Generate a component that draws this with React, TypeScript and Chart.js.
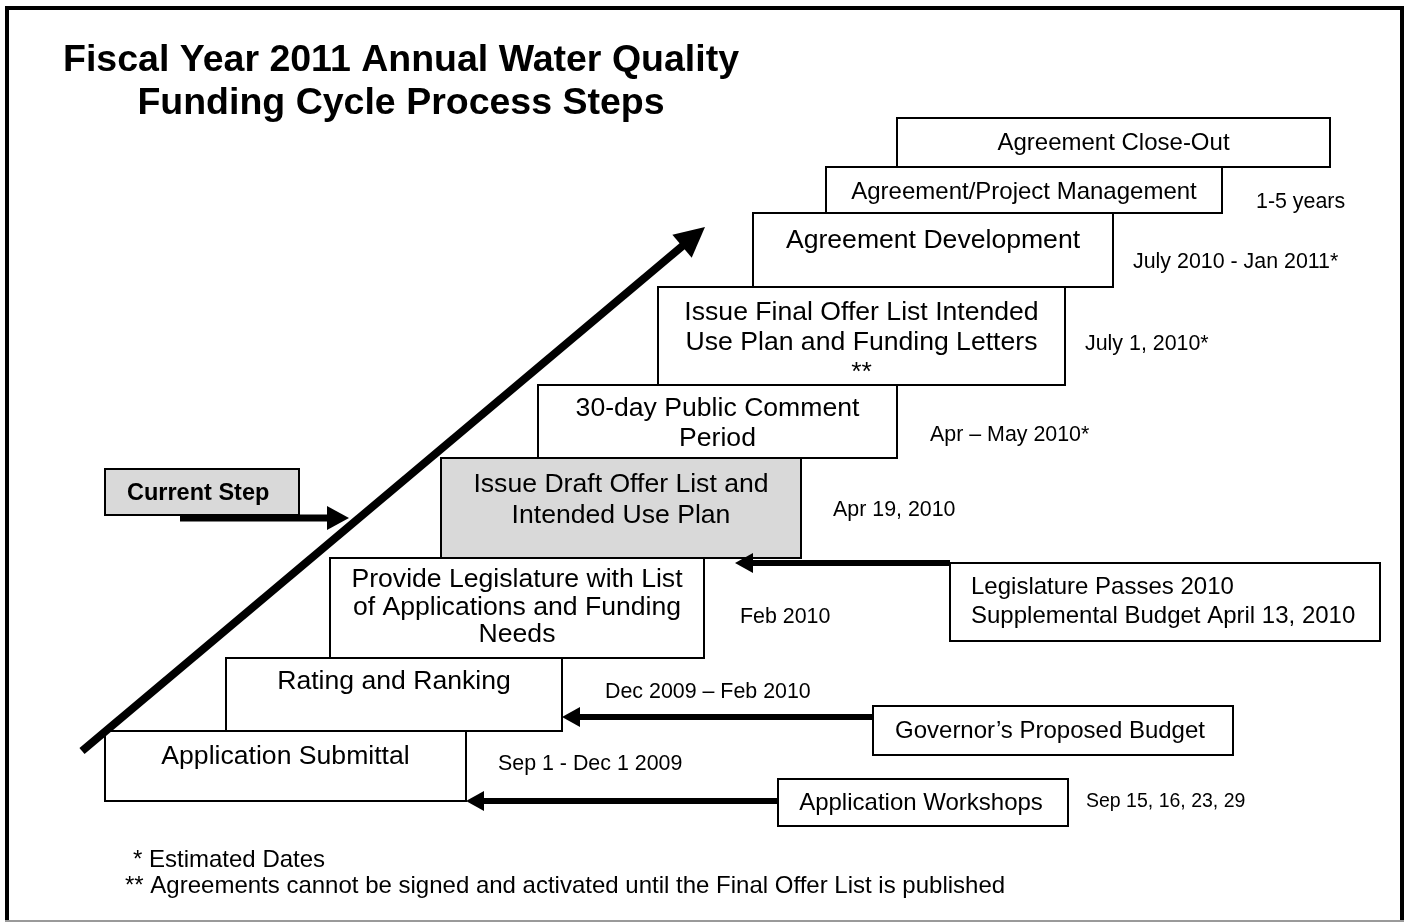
import React, { useEffect, useRef } from "react";
import { Chart, registerables } from "chart.js";

Chart.register(...registerables);

// ---- Title & footnotes ----
const titleLines = ["Fiscal Year 2011 Annual Water Quality", "Funding Cycle Process Steps"];
const titleX = [401, 401];
const titleY = [61, 104];
const footnotes = [
  "* Estimated Dates",
  "** Agreements cannot be signed and activated until the Final Offer List is published",
];
const footnoteX = [133, 125];
const footnoteY = [860, 886];

// ---- Process steps (staircase) ----
const stepLines: string[][] = [
  ["Application Submittal"],
  ["Rating and Ranking"],
  ["Provide Legislature with List", "of Applications and Funding", "Needs"],
  ["Issue Draft Offer List and", "Intended Use Plan"],
  ["30-day Public Comment", "Period"],
  ["Issue Final Offer List Intended", "Use Plan and Funding Letters", "**"],
  ["Agreement Development"],
  ["Agreement/Project Management"],
  ["Agreement Close-Out"],
];
const stepLeft = [105, 226, 330, 441, 538, 658, 753, 826, 897];
const stepRight = [466, 562, 704, 801, 897, 1065, 1113, 1222, 1330];
const stepTop = [731, 658, 558, 458, 385, 287, 213, 167, 118];
const stepBottom = [801, 731, 658, 558, 458, 385, 287, 213, 167];
const stepTextY = [757, 682, 580, 485, 409, 313, 241, 192, 143];
const currentStepIndex = 3;

// ---- Step dates ----
const dateLabels = [
  "Sep 1 - Dec 1 2009",
  "Dec 2009 – Feb 2010",
  "Feb 2010",
  "Apr 19, 2010",
  "Apr – May 2010*",
  "July 1, 2010*",
  "July 2010 - Jan 2011*",
  "1-5 years",
];
const dateX = [498, 605, 740, 833, 930, 1085, 1133, 1256];
const dateY = [764, 692, 617, 510, 435, 344, 262, 202];

// ---- External inputs ----
const inputLines: string[][] = [
  ["Legislature Passes 2010", "Supplemental Budget April 13, 2010"],
  ["Governor’s Proposed Budget"],
  ["Application Workshops"],
];
const inputLeft = [950, 873, 778];
const inputRight = [1380, 1233, 1068];
const inputTop = [563, 706, 779];
const inputBottom = [641, 755, 826];
const inputTextX = [971, 1050, 921];
const inputTextY = [587, 731, 803];
const inputCentered = [false, true, true];
const inputArrowY = [563, 717, 801];
const inputArrowTip = [735, 562, 466];
const workshopDates = "Sep 15, 16, 23, 29";
const workshopDatesPos = [1086, 802];

// ---- Current step marker ----
const currentLabel = "Current Step";
const currentBox = [105, 299, 469, 515]; // left, right, top, bottom
const currentTextPos = [127, 494];
const currentArrow = [180, 349, 518]; // from x, tip x, y

// ---- Progress arrow ----
const progressStart = { x: 82, y: 751 };
const progressTip = { x: 705, y: 227 };

// ---- styles ----
const FONT = "'Liberation Sans', Arial, Helvetica, sans-serif";
const stepFontPx = [26.6, 26.6, 26.6, 26.6, 26.6, 26.6, 26.6, 24, 24];
const stepLineGap = [30, 30, 27.5, 31, 30, 30, 30, 30, 30];

function arrowHead(ctx: CanvasRenderingContext2D, tx: number, ty: number, dx: number, dy: number, len: number, half: number) {
  const bx = tx - dx * len;
  const by = ty - dy * len;
  const nx = -dy;
  const ny = dx;
  ctx.beginPath();
  ctx.moveTo(tx, ty);
  ctx.lineTo(bx + nx * half, by + ny * half);
  ctx.lineTo(bx - nx * half, by - ny * half);
  ctx.closePath();
  ctx.fill();
}

const diagramPlugin = {
  id: "diagram",
  beforeDatasetsDraw(chart: any) {
    const ctx: CanvasRenderingContext2D = chart.ctx;
    const xs = chart.scales.x;
    const ys = chart.scales.y;
    const X = (v: number) => xs.getPixelForValue(v);
    const Y = (v: number) => ys.getPixelForValue(v);
    ctx.save();

    // frame
    ctx.strokeStyle = "#000";
    ctx.lineWidth = 4;
    ctx.beginPath();
    ctx.moveTo(X(7), Y(921));
    ctx.lineTo(X(7), Y(8));
    ctx.lineTo(X(1402), Y(8));
    ctx.lineTo(X(1402), Y(921));
    ctx.stroke();
    ctx.strokeStyle = "#9a9a9a";
    ctx.lineWidth = 2;
    ctx.beginPath();
    ctx.moveTo(X(5), Y(921));
    ctx.lineTo(X(1404), Y(921));
    ctx.stroke();

    // title
    ctx.fillStyle = "#000";
    ctx.textAlign = "center";
    ctx.textBaseline = "middle";
    ctx.font = `bold 37.5px ${FONT}`;
    titleLines.forEach((t, i) => ctx.fillText(t, X(titleX[i]), Y(titleY[i])));

    // steps
    stepLines.forEach((lines, i) => {
      const l = X(stepLeft[i]);
      const r = X(stepRight[i]);
      const t = Y(stepTop[i]);
      const b = Y(stepBottom[i]);
      ctx.fillStyle = i === currentStepIndex ? "#d9d9d9" : "#ffffff";
      ctx.fillRect(l, t, r - l, b - t);
      ctx.strokeStyle = "#000";
      ctx.lineWidth = 2;
      ctx.strokeRect(l, t, r - l, b - t);
    });
    stepLines.forEach((lines, i) => {
      ctx.fillStyle = "#000";
      ctx.textAlign = "center";
      ctx.font = `${stepFontPx[i]}px ${FONT}`;
      const cx = (X(stepLeft[i]) + X(stepRight[i])) / 2;
      lines.forEach((s, k) => ctx.fillText(s, cx, Y(stepTextY[i]) + k * stepLineGap[i]));
    });

    // dates
    ctx.font = `21.4px ${FONT}`;
    ctx.textAlign = "left";
    dateLabels.forEach((d, i) => ctx.fillText(d, X(dateX[i]), Y(dateY[i])));

    // inputs
    inputLines.forEach((lines, i) => {
      const l = X(inputLeft[i]);
      const r = X(inputRight[i]);
      const t = Y(inputTop[i]);
      const b = Y(inputBottom[i]);
      ctx.fillStyle = "#fff";
      ctx.fillRect(l, t, r - l, b - t);
      ctx.strokeStyle = "#000";
      ctx.lineWidth = 2;
      ctx.strokeRect(l, t, r - l, b - t);
      ctx.fillStyle = "#000";
      ctx.font = `24px ${FONT}`;
      ctx.textAlign = inputCentered[i] ? "center" : "left";
      lines.forEach((s, k) => ctx.fillText(s, X(inputTextX[i]), Y(inputTextY[i]) + k * 29));
      // arrow
      const ay = Y(inputArrowY[i]);
      const tip = X(inputArrowTip[i]);
      ctx.lineWidth = 6;
      ctx.beginPath();
      ctx.moveTo(l, ay);
      ctx.lineTo(tip + 14, ay);
      ctx.stroke();
      arrowHead(ctx, tip, ay, -1, 0, 18, 10);
    });
    ctx.font = `19.5px ${FONT}`;
    ctx.textAlign = "left";
    ctx.fillText(workshopDates, X(workshopDatesPos[0]), Y(workshopDatesPos[1]));

    // current step marker
    {
      const [cl, cr, ct, cb] = currentBox;
      const l = X(cl), r = X(cr), t = Y(ct), b = Y(cb);
      ctx.fillStyle = "#d9d9d9";
      ctx.fillRect(l, t, r - l, b - t);
      ctx.strokeStyle = "#000";
      ctx.lineWidth = 2;
      ctx.strokeRect(l, t, r - l, b - t);
      ctx.fillStyle = "#000";
      ctx.font = `bold 23.5px ${FONT}`;
      ctx.textAlign = "left";
      ctx.fillText(currentLabel, X(currentTextPos[0]), Y(currentTextPos[1]));
      const ay = Y(currentArrow[2]);
      ctx.lineWidth = 7;
      ctx.beginPath();
      ctx.moveTo(X(currentArrow[0]), ay);
      ctx.lineTo(X(currentArrow[1]) - 16, ay);
      ctx.stroke();
      arrowHead(ctx, X(currentArrow[1]), ay, 1, 0, 22, 12);
    }

    // footnotes
    ctx.font = `24px ${FONT}`;
    ctx.textAlign = "left";
    footnotes.forEach((f, i) => ctx.fillText(f, X(footnoteX[i]), Y(footnoteY[i])));
    ctx.restore();
  },
  afterDatasetsDraw(chart: any) {
    const ctx: CanvasRenderingContext2D = chart.ctx;
    const xs = chart.scales.x;
    const ys = chart.scales.y;
    const sx = xs.getPixelForValue(progressStart.x);
    const sy = ys.getPixelForValue(progressStart.y);
    const tx = xs.getPixelForValue(progressTip.x);
    const ty = ys.getPixelForValue(progressTip.y);
    const len = Math.hypot(tx - sx, ty - sy);
    ctx.save();
    ctx.fillStyle = "#000";
    arrowHead(ctx, tx, ty, (tx - sx) / len, (ty - sy) / len, 30, 15);
    ctx.restore();
  },
};

export default function App() {
  const canvasRef = useRef<HTMLCanvasElement | null>(null);
  useEffect(() => {
    if (!canvasRef.current) return;
    const dx = progressTip.x - progressStart.x;
    const dy = progressTip.y - progressStart.y;
    const L = Math.hypot(dx, dy);
    const shaftEnd = { x: progressTip.x - (dx / L) * 24, y: progressTip.y - (dy / L) * 24 };
    const chart = new Chart(canvasRef.current, {
      type: "line",
      data: {
        datasets: [
          {
            label: "Progress",
            data: [progressStart, shaftEnd],
            borderColor: "#000",
            borderWidth: 8,
            borderCapStyle: "butt",
            pointRadius: 0,
            fill: false,
          },
        ],
      },
      options: {
        animation: false,
        responsive: false,
        events: [],
        layout: { padding: 0 },
        plugins: { legend: { display: false }, tooltip: { enabled: false }, title: { display: false } },
        scales: {
          x: { type: "linear", min: 0, max: 1411, display: false },
          y: { type: "linear", min: 0, max: 923, reverse: true, display: false },
        },
      },
      plugins: [diagramPlugin],
    } as any);
    return () => chart.destroy();
  }, []);
  return (
    <div style={{ position: "fixed", left: 0, top: 0, width: 1411, height: 923, background: "#fff" }}>
      <canvas ref={canvasRef} width={1411} height={923} style={{ display: "block" }} />
    </div>
  );
}
